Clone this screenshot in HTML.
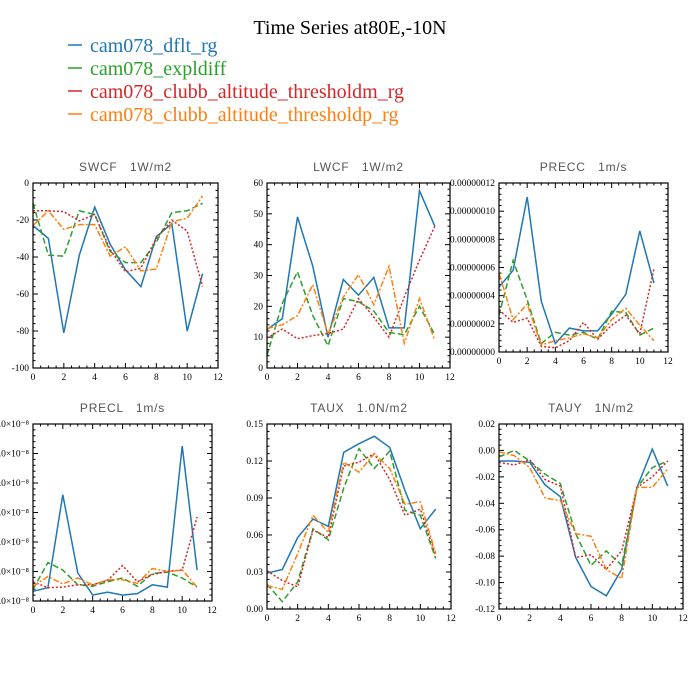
<!DOCTYPE html>
<html><head><meta charset="utf-8"><style>
body{margin:0;background:#fff;}
svg{display:block;}
svg text{white-space:pre;}
</style></head><body>
<svg id="chart" width="700" height="700" xmlns="http://www.w3.org/2000/svg">
<rect width="700" height="700" fill="#fff"/>
<text x="350" y="34" font-family="Liberation Serif, serif" font-size="20" text-anchor="middle" fill="#000">Time Series at80E,-10N</text>
<g font-family="Liberation Serif, serif" font-size="20">
<line x1="68" y1="45" x2="82" y2="45" stroke="#1f77b4" stroke-width="1.5"/>
<text x="90" y="52" fill="#1f77b4">cam078_dflt_rg</text>
<line x1="68" y1="68" x2="82" y2="68" stroke="#2ca02c" stroke-width="1.5"/>
<text x="90" y="75" fill="#2ca02c">cam078_expldiff</text>
<line x1="68" y1="91" x2="82" y2="91" stroke="#d62728" stroke-width="1.5"/>
<text x="90" y="98" fill="#d62728">cam078_clubb_altitude_thresholdm_rg</text>
<line x1="68" y1="114" x2="82" y2="114" stroke="#ff7f0e" stroke-width="1.5"/>
<text x="90" y="121" fill="#ff7f0e">cam078_clubb_altitude_thresholdp_rg</text>
</g>
</svg>
<script>
const months = [0,1,2,3,4,5,6,7,8,9,10,11];
const seriesColors = ["#1f77b4","#2ca02c","#d62728","#ff7f0e"];
const seriesNames = ["dflt","expldiff","thresholdm","thresholdp"];
const xTicks = [0,2,4,6,8,10,12];

const swcfBlue = [-23,-30,-81,-39,-13,-33,-47,-56,-29,-22,-80,-49];
const swcfGreen = [-11,-39,-39.5,-15,-17,-37,-43,-43,-32,-16,-15,-11];
const swcfRed = [-15,-15,-15.5,-20.5,-17,-36,-48,-46,-30,-20,-26,-56];
const swcfOrange = [-23,-15,-25,-22.5,-22.5,-39.5,-34.5,-47.5,-46.5,-21,-19,-7];
const swcfTicks = [0,-20,-40,-60,-80,-100];

const lwcfBlue = [12.5,16,49,33,10,28.7,23.6,29.4,13,13,57.5,46];
const lwcfGreen = [4,21,31.2,17,7.2,22.5,21.5,18.5,11.5,10.8,20,10.8];
const lwcfRed = [9.7,12.6,9.5,10.5,11.2,12.6,22.5,16.5,10,23,35,46];
const lwcfOrange = [12.8,14,17,27,11,23,30.3,20.5,33,8,22.5,9];
const lwcfTicks = [0,10,20,30,40,50,60];

const preccBlue = [4.6,5.8,11,3.6,0.6,1.7,1.5,1.5,2.7,4.1,8.6,4.9];
const preccGreen = [2.6,6.5,3.7,0.6,1.4,1.2,1.4,0.9,2.9,2.8,1.2,1.7];
const preccRed = [3.0,2.1,2.4,0.4,0.3,0.8,2.1,0.9,1.9,2.6,1.3,5.9];
const preccOrange = [5.6,2.3,3.4,0.5,0.8,1.0,1.3,1.0,2.3,3.1,1.9,0.8];
const preccTicks = [0,2,4,6,8,10,12];
const preccTickLabels = ["0.00000000","0.00000002","0.00000004","0.00000006","0.00000008","0.00000010","0.00000012"];

const preclBlue = [0.33,0.45,3.6,0.95,0.2,0.3,0.2,0.25,0.55,0.47,5.25,1.05];
const preclGreen = [0.4,1.3,1.05,0.55,0.5,0.65,0.78,0.5,0.93,0.98,0.78,0.47];
const preclRed = [0.65,0.45,0.47,0.55,0.55,0.7,1.2,0.65,0.9,1.0,1.05,2.85];
const preclOrange = [0.5,0.83,0.58,0.78,0.55,0.72,0.72,0.6,1.1,1.0,1.05,0.47];
const preclTicks = [0,1,2,3,4,5,6];
const preclTickLabels = ["0.0×10⁻⁸","1.0×10⁻⁸","2.0×10⁻⁸","3.0×10⁻⁸","4.0×10⁻⁸","5.0×10⁻⁸","6.0×10⁻⁸"];

const tauxBlue = [.029,.032,.058,.073,.067,.127,.134,.140,.131,.096,.065,.081];
const tauxGreen = [.020,.006,.022,.065,.056,.098,.130,.114,.128,.080,.076,.041];
const tauxRed = [.031,.023,.018,.064,.058,.116,.119,.126,.105,.076,.081,.043];
const tauxOrange = [.019,.016,.045,.076,.062,.119,.111,.126,.114,.085,.087,.045];
const tauxTicks = [0,0.03,0.06,0.09,0.12,0.15];

const tauyBlue = [-.008,-.008,-.009,-.026,-.035,-.081,-.103,-.110,-.090,-.028,.001,-.027];
const tauyGreen = [-.005,.000,-.008,-.018,-.025,-.063,-.087,-.076,-.087,-.028,-.013,-.008];
const tauyRed = [-.009,-.011,-.007,-.022,-.027,-.081,-.079,-.090,-.076,-.028,-.020,-.008];
const tauyOrange = [-.001,-.004,-.013,-.036,-.038,-.063,-.065,-.090,-.097,-.028,-.028,-.014];
const tauyTicks = [0.02,0,-0.02,-0.04,-0.06,-0.08,-0.10,-0.12];

const NS = "http://www.w3.org/2000/svg";
const svg = document.getElementById("chart");
const dashes = ["", "6,3", "2,2", "6,2,2,2"];

function mk(tag, attrs, parent){
  const e = document.createElementNS(NS, tag);
  for (const k in attrs) e.setAttribute(k, attrs[k]);
  parent.appendChild(e);
  return e;
}

function panel(o){
  const g = mk("g", {}, svg);
  
  
  const xs = v => o.x0 + (v - 0) / 12 * (o.x1 - o.x0);
  const ys = v => o.y1 - (v - o.ymin) / (o.ymax - o.ymin) * (o.y1 - o.y0);
  const t = mk("text", {x:(o.x0+o.x1)/2, y:o.y0-12, "font-family":"Liberation Sans, sans-serif", "font-size":"12", "letter-spacing":"0.8", fill:"#555", "text-anchor":"middle"}, g);
  t.textContent = o.title;
  
  
  const tickG = mk("g", {stroke:"#000", "stroke-width":"1"}, g);
  
  
  for (let v = 0; v <= 12; v += 0.5) {
    const len = (v % 2 === 0) ? 5 : 2.5;
    const x = xs(v);
    mk("line", {x1:x, y1:o.y1, x2:x, y2:o.y1-len}, tickG);
    mk("line", {x1:x, y1:o.y0, x2:x, y2:o.y0+len}, tickG);
  }
  const yMajors = o.yTicks.slice().sort((a,b)=>a-b);
  const step = yMajors[1] - yMajors[0];
  for (let i = 0; i < yMajors.length; i++) {
    const y = ys(yMajors[i]);
    mk("line", {x1:o.x0, y1:y, x2:o.x0+5, y2:y}, tickG);
    mk("line", {x1:o.x1, y1:y, x2:o.x1-5, y2:y}, tickG);
    if (i < yMajors.length - 1) {
      for (let k = 1; k < 5; k++) {
        const ym = ys(yMajors[i] + step * k / 5);
        mk("line", {x1:o.x0, y1:ym, x2:o.x0+2.5, y2:ym}, tickG);
        mk("line", {x1:o.x1, y1:ym, x2:o.x1-2.5, y2:ym}, tickG);
      }
    }
  }
  const lg = mk("g", {"font-family":"Liberation Serif, serif", "font-size":"9.5", fill:"#000"}, g);
  
  
  xTicks.forEach(v => {
    const e = mk("text", {x:xs(v), y:o.y1+12, "text-anchor":"middle"}, lg);
    e.textContent = String(v);
  });
  o.yTicks.forEach((v, i) => {
    const e = mk("text", {x:o.x0-4, y:ys(v)+3, "text-anchor":"end"}, lg);
    e.textContent = o.yLabels ? o.yLabels[i] : o.fmt(v);
  });
  o.series.forEach((arr, si) => {
    const pts = months.map((m, i) => xs(m).toFixed(1) + "," + ys(arr[i]).toFixed(1)).join(" ");
    const attrs = {points:pts, fill:"none", stroke:seriesColors[si], "stroke-width":"1.5", "stroke-linejoin":"miter"};
    if (dashes[si]) attrs["stroke-dasharray"] = dashes[si];
    const pl = mk("polyline", attrs, g);
    
    
  });
  const fr = mk("rect", {x:o.x0, y:o.y0, width:o.x1-o.x0, height:o.y1-o.y0, fill:"none", stroke:"#000", "stroke-width":"1.2"}, g);
  
  
}

panel({name:"swcf", title:"SWCF   1W/m2", x0:33, x1:218, y0:183, y1:368, ymin:-100, ymax:0,
  yTicks:swcfTicks, fmt:v=>String(v), series:[swcfBlue,swcfGreen,swcfRed,swcfOrange]});
panel({name:"lwcf", title:"LWCF   1W/m2", x0:267, x1:450, y0:183, y1:368, ymin:0, ymax:60,
  yTicks:lwcfTicks, fmt:v=>String(v), series:[lwcfBlue,lwcfGreen,lwcfRed,lwcfOrange]});
panel({name:"precc", title:"PRECC   1m/s", x0:499, x1:668, y0:183, y1:352, ymin:0, ymax:12,
  yTicks:preccTicks, yLabels:preccTickLabels, series:[preccBlue,preccGreen,preccRed,preccOrange]});
panel({name:"precl", title:"PRECL   1m/s", x0:33, x1:212, y0:424, y1:601, ymin:0, ymax:6,
  yTicks:preclTicks, yLabels:preclTickLabels, series:[preclBlue,preclGreen,preclRed,preclOrange]});
panel({name:"taux", title:"TAUX   1.0N/m2", x0:267, x1:451, y0:424, y1:609, ymin:0, ymax:0.15,
  yTicks:tauxTicks, fmt:v=>v.toFixed(2), series:[tauxBlue,tauxGreen,tauxRed,tauxOrange]});
panel({name:"tauy", title:"TAUY   1N/m2", x0:499, x1:683, y0:424, y1:609, ymin:-0.12, ymax:0.02,
  yTicks:tauyTicks, fmt:v=>v.toFixed(2), series:[tauyBlue,tauyGreen,tauyRed,tauyOrange]});
</script>
</body></html>
